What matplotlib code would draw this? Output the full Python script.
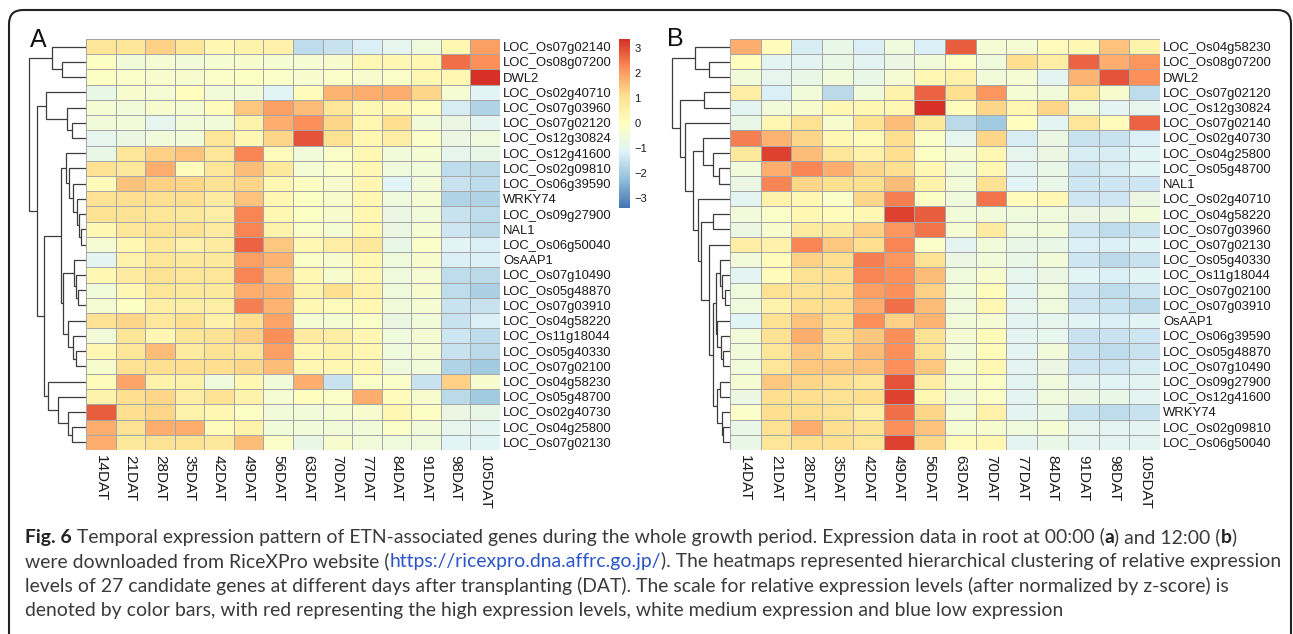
import numpy as np
import matplotlib
matplotlib.use("Agg")
import matplotlib.pyplot as plt
from matplotlib.colors import LinearSegmentedColormap
from matplotlib.patches import FancyBboxPatch

# ---- data ----
days = ['14DAT', '21DAT', '28DAT', '35DAT', '42DAT', '49DAT', '56DAT',
        '63DAT', '70DAT', '77DAT', '84DAT', '91DAT', '98DAT', '105DAT']

genes_a = ['LOC_Os07g02140', 'LOC_Os08g07200', 'DWL2', 'LOC_Os02g40710', 'LOC_Os07g03960',
           'LOC_Os07g02120', 'LOC_Os12g30824', 'LOC_Os12g41600', 'LOC_Os02g09810',
           'LOC_Os06g39590', 'WRKY74', 'LOC_Os09g27900', 'NAL1', 'LOC_Os06g50040', 'OsAAP1',
           'LOC_Os07g10490', 'LOC_Os05g48870', 'LOC_Os07g03910', 'LOC_Os04g58220',
           'LOC_Os11g18044', 'LOC_Os05g40330', 'LOC_Os07g02100', 'LOC_Os04g58230',
           'LOC_Os05g48700', 'LOC_Os02g40730', 'LOC_Os04g25800', 'LOC_Os07g02130']

genes_b = ['LOC_Os04g58230', 'LOC_Os08g07200', 'DWL2', 'LOC_Os07g02120', 'LOC_Os12g30824',
           'LOC_Os07g02140', 'LOC_Os02g40730', 'LOC_Os04g25800', 'LOC_Os05g48700', 'NAL1',
           'LOC_Os02g40710', 'LOC_Os04g58220', 'LOC_Os07g03960', 'LOC_Os07g02130',
           'LOC_Os05g40330', 'LOC_Os11g18044', 'LOC_Os07g02100', 'LOC_Os07g03910', 'OsAAP1',
           'LOC_Os06g39590', 'LOC_Os05g48870', 'LOC_Os07g10490', 'LOC_Os09g27900',
           'LOC_Os12g41600', 'WRKY74', 'LOC_Os02g09810', 'LOC_Os06g50040']

# z-scores, panel A (root 00:00)
zscore_a = [
    [0.9, 0.9, 1.3, 0.9, 0.2, 0.4, 0.5, -1.6, -1.5, -1.2, -0.9, -0.6, 0.3, 2.0],
    [-0.1, -0.5, -0.4, -0.5, -0.4, -0.3, -0.4, -0.4, -0.3, 0.2, 0.2, 0.3, 2.6, 2.2],
    [-0.1, -0.2, -0.3, -0.3, -0.2, -0.1, -0.2, -0.3, -0.2, -0.3, -0.2, 0.3, 0.2, 3.4],
    [-0.8, -0.3, -0.4, 0.0, -0.5, -0.5, -1.1, 0.1, 1.7, 1.8, 1.8, 1.2, -0.4, -1.1],
    [-0.4, -0.5, -0.3, -0.4, 0.1, 1.4, 2.0, 1.6, 0.9, 0.2, 0.2, 0.0, -1.3, -1.8],
    [-0.5, -0.5, -0.9, -0.5, -0.5, 0.4, 1.8, 2.2, 1.2, 0.3, 1.1, -0.5, -0.7, -1.0],
    [-0.9, -0.7, -0.5, -0.5, 0.9, 0.2, 1.2, 2.9, 1.0, 0.3, 0.6, -0.2, -0.7, -0.6],
    [-0.8, 0.9, 1.3, 1.5, 0.9, 2.3, 0.1, -0.5, -0.2, 0.2, -0.5, -0.4, -0.9, -0.8],
    [1.0, 0.8, 1.8, 0.1, 0.9, 1.6, 0.8, -0.4, -0.2, 0.2, -0.6, -0.5, -1.6, -1.7],
    [0.1, 1.5, 1.3, 1.2, 1.0, 1.2, 0.2, -0.1, -0.3, 0.3, -1.1, -0.5, -1.5, -1.6],
    [1.0, 1.1, 1.1, 1.1, 0.7, 1.5, 0.3, -0.1, -0.3, 0.3, -0.6, -0.4, -1.8, -1.8],
    [1.0, 1.0, 0.9, 0.8, 0.6, 2.3, 0.3, -0.1, -0.3, 0.3, -0.7, -0.5, -1.5, -1.6],
    [0.2, 0.9, 1.0, 1.0, 0.7, 2.3, 0.4, -0.2, -0.4, 0.3, -0.7, -0.4, -1.4, -1.7],
    [-0.4, 0.3, 0.8, 0.5, 0.7, 2.7, 1.4, 0.2, 0.6, 0.8, -0.8, -0.2, -1.1, -1.2],
    [-1.0, 0.4, 0.9, 0.8, 0.8, 2.0, 1.7, -0.2, -0.3, 0.3, -0.6, -0.3, -1.2, -1.2],
    [0.2, 0.7, 1.0, 0.9, 0.9, 2.3, 1.5, 0.2, -0.3, 0.2, -0.6, -0.4, -1.6, -1.7],
    [-0.5, 0.3, 0.9, 0.8, 0.8, 1.8, 1.7, 0.4, 1.1, 0.5, -0.6, -0.3, -1.6, -1.9],
    [-0.4, -0.1, 0.6, 0.6, 0.6, 2.4, 1.7, 0.2, 0.1, 0.3, -0.5, -0.4, -1.5, -1.5],
    [1.0, 1.2, 0.8, 1.1, 0.5, 1.1, 1.9, -0.4, -0.4, -0.2, -0.7, -0.5, -1.5, -1.2],
    [-0.5, 0.9, 0.3, 0.9, 1.0, 1.3, 2.2, 0.7, 0.6, 0.3, -0.6, -0.4, -1.4, -1.6],
    [0.3, 0.9, 1.6, 0.7, 1.0, 0.9, 2.0, 0.3, 0.4, 0.3, -0.6, -0.4, -1.5, -1.7],
    [-0.3, 1.0, 1.1, 1.1, 1.1, 1.2, 1.6, 0.3, 0.3, 0.2, -0.6, -0.5, -1.8, -2.0],
    [0.1, 1.9, 0.4, 0.4, -0.6, 0.3, -0.5, 1.8, -1.5, -0.2, -0.2, -1.5, 1.3, -0.3],
    [0.4, 1.1, 1.2, 0.6, 1.0, 0.4, -0.4, 0.0, -0.2, 1.8, 0.1, -0.3, -1.7, -2.0],
    [2.8, 1.1, 1.2, 0.4, 0.3, -0.1, -0.5, -0.5, -0.4, -0.3, 0.2, -0.1, -0.7, -0.8],
    [1.8, 1.0, 1.8, 1.8, 0.1, 0.4, -0.5, -0.5, -0.5, -0.5, -0.2, -0.5, -0.9, -1.0],
    [1.8, 0.8, 1.0, 1.0, 0.8, 1.6, -0.2, -0.8, -0.3, -0.5, -0.6, -0.6, -1.1, -1.1],
]

# z-scores, panel B (root 12:00)
zscore_b = [
    [1.8, 0.1, -1.3, -0.8, -1.2, -0.6, -1.2, 2.8, -0.4, -0.4, 0.1, 0.2, 1.5, 0.4],
    [0.0, -1.0, -1.0, -0.8, -1.0, -0.7, -0.5, -0.2, -0.6, 1.1, 0.6, 2.7, 1.8, 2.1],
    [-0.5, -0.9, -0.8, -0.5, -0.8, -0.4, 0.2, 0.5, -0.5, -0.4, -1.0, 1.7, 2.9, 2.2],
    [0.6, -1.2, -0.5, -1.7, -0.5, 0.4, 2.7, 1.1, 2.1, -0.4, -0.5, 0.9, -0.3, -1.6],
    [-1.0, -0.5, -0.3, 0.2, 0.2, 0.2, 3.4, 0.1, 1.2, 0.3, 1.2, -0.6, -1.0, -0.9],
    [-0.8, 0.3, 1.0, -0.3, 1.0, 1.6, 0.8, -1.7, -2.0, 0.0, -1.0, 0.9, 0.1, 2.7],
    [2.4, 1.7, 1.2, 0.2, 0.1, 1.1, -0.2, -0.9, 1.2, -1.3, -0.7, -1.5, -1.5, -1.2],
    [0.8, 3.1, 1.6, 0.9, 0.5, 1.1, -0.1, -0.4, 0.2, -0.9, -0.7, -1.3, -1.3, -1.1],
    [-0.5, 1.8, 2.3, 1.8, 1.2, 1.1, 0.2, -0.5, 0.2, -1.0, -0.8, -1.4, -1.3, -1.1],
    [-0.7, 2.3, 1.2, 1.1, 1.1, 1.6, 0.4, -0.5, 1.0, -1.1, -0.8, -1.4, -1.4, -1.4],
    [-1.0, 0.4, 0.2, -0.2, 1.2, 2.4, -0.1, -0.6, 2.5, 0.1, 0.2, -1.4, -1.4, -0.7],
    [-0.5, -0.2, 0.2, 0.1, 0.2, 3.1, 2.8, -0.5, -0.5, -0.6, -0.6, -0.7, -0.7, -0.5],
    [-0.7, -0.3, 0.7, 0.8, 1.3, 2.1, 2.5, -0.4, 0.7, -0.6, -0.5, -1.4, -1.6, -1.5],
    [0.6, 0.5, 2.3, 1.4, 1.1, 2.3, -0.2, -1.0, -0.5, -0.8, -0.8, -1.2, -1.2, -1.1],
    [-0.5, 0.1, 1.3, 1.1, 2.4, 2.1, 1.0, -0.7, -0.5, -0.8, -0.5, -1.4, -1.7, -1.5],
    [-1.0, 0.1, 1.0, 1.1, 2.3, 2.2, 1.6, -0.6, -0.3, -0.9, -0.7, -1.1, -1.2, -1.1],
    [-0.6, 1.0, 1.0, 1.1, 2.0, 2.2, 1.3, -0.5, 0.1, -1.0, -0.6, -1.4, -1.6, -1.4],
    [-0.6, 0.4, 1.1, 1.1, 1.8, 2.6, 1.6, -0.6, 0.2, -0.9, -0.6, -1.4, -1.5, -1.7],
    [-1.1, 1.0, 1.5, 1.1, 2.2, 1.3, 1.7, -0.5, -0.4, -1.0, -0.9, -1.1, -1.2, -1.1],
    [-0.5, 1.0, 1.8, 1.1, 1.4, 2.2, 1.0, -0.4, 0.1, -1.0, -0.9, -1.5, -1.5, -1.4],
    [-0.5, 0.9, 1.4, 1.1, 1.6, 2.2, 1.0, -0.5, 0.1, -1.0, -0.5, -1.5, -1.6, -1.5],
    [-0.5, 0.9, 1.4, 1.4, 1.5, 2.2, 1.4, -0.4, 0.2, -1.0, -0.7, -1.4, -1.4, -1.3],
    [-0.4, 1.4, 1.2, 1.1, 0.9, 2.9, 0.6, -0.4, -0.2, -1.0, -0.6, -1.0, -1.1, -1.0],
    [-0.7, 1.1, 1.1, 1.0, 1.1, 3.1, 0.3, -0.5, -0.2, -1.0, -0.6, -0.7, -0.8, -1.0],
    [-0.2, 1.1, 1.1, 1.0, 0.6, 2.6, 1.2, -0.4, 0.5, -1.0, -0.8, -1.5, -1.6, -1.5],
    [-0.8, 1.0, 1.8, 1.1, 1.0, 2.2, 1.5, -0.4, -0.3, -0.6, -0.4, -0.9, -1.0, -1.0],
    [-0.8, 0.9, 1.1, 1.1, 0.9, 3.1, 1.2, 0.1, 0.2, -1.0, -0.8, -1.0, -1.0, -1.0],
]

# row dendrograms: (left, right, merge height); ints are row indices
tree_a = (
    (0, (1, 2, 24.3), 34.3),
    ((3, (4, (5, 6, 14.3), 19.3), 40.0),
     (((7, (8, (9, (10, (11, (12, 13, 5.0), 7.3), 9.3), 13.3), 16.7), 20.3),
       ((14, (15, (16, 17, 7.7), 10.0), 12.0), (18, (19, (20, 21, 10.0), 13.3), 17.7), 22.7),
       25.3),
      (22, (23, (24, (25, 26, 14.3), 17.7), 27.7), 38.3),
      42.0),
     49.3),
    56.7)

tree_b = (
    (0, (1, 2, 20.7), 35.0),
    ((3, 4, 25.7),
     (5,
      ((6, (7, (8, 9, 10.7), 17.3), 27.3),
       (10,
        ((11, 12, 16.7),
         (13,
          (((14, (15, (16, 17, 5.0), 8.3), 10.0), (18, (19, (20, 21, 7.0), 9.3), 12.7), 14.0),
           ((22, 23, 10.0), (24, (25, 26, 6.7), 8.3), 13.5),
           17.3),
          20.7),
         29.0),
        31.7),
       36.7),
      45.0),
     50.0),
    58.3)

cbar_ticks = [-3, -2, -1, 0, 1, 2, 3]

caption = [
    [("Fig. 6", True, '#222222'),
     (" Temporal expression pattern of ETN-associated genes during the whole growth period. "
      "Expression data in root at 00:00 (", False, '#3a3a3a'),
     ("a", True, '#222222'), (") and 12:00 (", False, '#3a3a3a'),
     ("b", True, '#222222'), (")", False, '#3a3a3a')],
    [("were downloaded from RiceXPro website (", False, '#3a3a3a'),
     ("https://ricexpro.dna.affrc.go.jp/", False, '#2a55c8'),
     ("). The heatmaps represented hierarchical clustering of relative expression", False, '#3a3a3a')],
    [("levels of 27 candidate genes at different days after transplanting (DAT). The scale for "
      "relative expression levels (after normalized by z-score) is", False, '#3a3a3a')],
    [("denoted by color bars, with red representing the high expression levels, white medium "
      "expression and blue low expression", False, '#3a3a3a')],
]

# ---- styling ----
W, H = 1293, 634
VMIN, VMAX = -3.4, 3.36
cmap = LinearSegmentedColormap.from_list(
    'rdylbu', ['#4575B4', '#91BFDB', '#E0F3F8', '#FFFFBF', '#FEE090', '#FC8D59', '#D73027'], N=100)
LAB_FONT = ['Liberation Sans', 'DejaVu Sans']
CAP_FONT = ['Lato', 'DejaVu Sans']

fig = plt.figure(figsize=(W / 100, H / 100), dpi=100)
fig.patch.set_facecolor('white')


def px_axes(x0, y0, x1, y1):
    return fig.add_axes([x0 / W, 1 - y1 / H, (x1 - x0) / W, (y1 - y0) / H])


def draw_heatmap(box, values, rows):
    ax = px_axes(*box)
    mesh = ax.pcolormesh(np.array(values), cmap=cmap, vmin=VMIN, vmax=VMAX,
                         edgecolors='#a6a6a6', linewidth=0.7)
    ax.set_xlim(0, len(days))
    ax.set_ylim(len(rows), 0)
    ax.set_xticks(np.arange(len(days)) + 0.5)
    ax.set_xticklabels(days, rotation=270, fontsize=11, family=LAB_FONT, color='#1a1a1a')
    ax.set_yticks(np.arange(len(rows)) + 0.5)
    ax.set_yticklabels(rows, fontsize=9.4, family=LAB_FONT, color='#1a1a1a')
    ax.yaxis.tick_right()
    ax.tick_params(axis='y', length=0, pad=2.2)
    ax.tick_params(axis='x', length=0, pad=3.6)
    for s in ax.spines.values():
        s.set_visible(False)
    return mesh


def draw_tree(ax, node):
    if isinstance(node, int):
        return node + 0.5, 0.0
    left, right, h = node
    yl, hl = draw_tree(ax, left)
    yr, hr = draw_tree(ax, right)
    ax.plot([hl, h, h, hr], [yl, yl, yr, yr], color='#3c3c3c', lw=0.9,
            solid_capstyle='butt', solid_joinstyle='miter')
    return (yl + yr) / 2, h


def draw_dendro(box, tree, nrows):
    ax = px_axes(*box)
    draw_tree(ax, tree)
    ax.set_xlim(box[2] - box[0], 0)
    ax.set_ylim(nrows, 0)
    ax.axis('off')


# panel A
mesh_a = draw_heatmap((86, 39, 500, 450), zscore_a, genes_a)
draw_dendro((20, 39, 86, 450), tree_a, len(genes_a))

cax = px_axes(619, 39, 630, 208)
cb = fig.colorbar(mesh_a, cax=cax, ticks=cbar_ticks)
cb.outline.set_visible(False)
cb.ax.set_yticklabels([str(t).replace('-', '\u2212') for t in cbar_ticks],
                      fontsize=8, family=LAB_FONT, color='#1a1a1a')
cax.tick_params(length=0, pad=3)

# panel B
draw_heatmap((730, 39, 1160, 450), zscore_b, genes_b)
draw_dendro((664, 39, 730, 450), tree_b, len(genes_b))

# overlay: frame, panel letters, caption
ov = fig.add_axes([0, 0, 1, 1], zorder=-1)
ov.set_xlim(0, W)
ov.set_ylim(H, 0)
ov.axis('off')
ov.add_patch(FancyBboxPatch((9, 10), 1282, 700, boxstyle='round,pad=0,rounding_size=14',
                            fill=False, lw=1.5, ec='#222222'))
ov.text(30, 47, 'A', fontsize=18, family=LAB_FONT, color='#111111', va='baseline')
ov.text(667, 46, 'B', fontsize=18, family=LAB_FONT, color='#111111', va='baseline')

renderer = fig.canvas.get_renderer()


def draw_runs(x, y, runs, size):
    made = []
    for text, bold, color in runs:
        t = ov.text(x, y, text, fontsize=size, fontweight='bold' if bold else 'normal',
                    color=color, family=CAP_FONT, ha='left', va='baseline')
        x += t.get_window_extent(renderer).width
        made.append(t)
    return x, made


# pick one caption size so that no line runs past where the reference lines end
CAP_X = 25
line_ends = [1250, 1278, 1254]
scale = []
for runs, target in zip(caption, line_ends):
    end, trial = draw_runs(CAP_X, 0, runs, 13)
    for t in trial:
        t.remove()
    scale.append((target - CAP_X) / (end - CAP_X))
cap_size = 13 * min(scale)
for i, runs in enumerate(caption):
    draw_runs(CAP_X, 543 + 24.3 * i, runs, cap_size)

fig.savefig('out.png', dpi=100, facecolor='white')
